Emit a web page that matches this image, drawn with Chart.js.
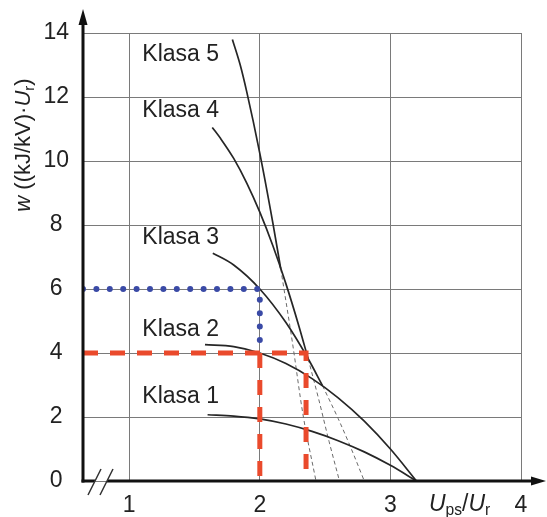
<!DOCTYPE html>
<html>
<head>
<meta charset="utf-8">
<script src="https://cdn.jsdelivr.net/npm/chart.js@4.4.1/dist/chart.umd.min.js"></script>
<style>
  body { margin: 0; background: #fff; }
  canvas { display: block; }
</style>
</head>
<body>
<canvas id="myChart" width="547" height="517"></canvas>
<script>
// tick values
var xTicks = [1, 2, 3, 4];
var yTicks = [0, 2, 4, 6, 8, 10, 12, 14];

// Klasa curves, solid parts (Ups/Ur, w)
var u1 = [1.6, 1.8, 2.0, 2.2, 2.4, 2.6, 2.8, 3.0, 3.2];
var w1 = [2.07, 2.03, 1.94, 1.78, 1.55, 1.26, 0.91, 0.49, 0];

var u2 = [1.58, 1.8, 2.0, 2.2, 2.4, 2.6, 2.8, 3.0, 3.2];
var w2 = [4.26, 4.2, 4.0, 3.67, 3.2, 2.6, 1.87, 1.0, 0];

var u3 = [1.64, 1.8, 2.0, 2.2, 2.37, 2.48];
var w3 = [7.12, 6.75, 6.0, 4.95, 3.82, 2.98];

var u4 = [1.636, 1.7, 1.8, 1.9, 2.0, 2.1, 2.2, 2.3, 2.37];
var w4 = [11.05, 10.7, 10.08, 9.31, 8.4, 7.35, 6.16, 4.83, 3.82];

var u5 = [1.79, 1.85, 1.9, 2.0, 2.1, 2.16];
var w5 = [13.8, 13.0, 12.16, 10.24, 8.06, 6.64];

// dashed continuations
var u3d = [2.48, 2.6, 2.7, 2.8];
var w3d = [2.98, 1.95, 1.01, 0];
var u4d = [2.37, 2.45, 2.53, 2.61];
var w4d = [3.82, 2.57, 1.24, 0];
var u5d = [2.16, 2.25, 2.33, 2.43];
var w5d = [6.64, 4.32, 2.09, 0];

// reading lines
var redU = [0.646, 2.354, 2.354];
var redW = [4, 4, 0];
var red2U = [2, 2];
var red2W = [4, 0];
var blueU = [0.646, 2, 2];
var blueW = [6, 6, 4.35];

// Klasa labels
var klasaNames = ['Klasa 1', 'Klasa 2', 'Klasa 3', 'Klasa 4', 'Klasa 5'];
var klasaLabelU = [1.1, 1.1, 1.1, 1.1, 1.1];
var klasaLabelW = [2.45, 4.52, 7.41, 11.36, 13.14];

var FONT = "'Liberation Sans', Arial, sans-serif";

function pts(us, ws) {
  return us.map(function (u, i) { return { x: u, y: ws[i] }; });
}

function solid(us, ws) {
  return {
    data: pts(us, ws), borderColor: '#262626', borderWidth: 1.7,
    pointRadius: 0, cubicInterpolationMode: 'monotone', fill: false
  };
}

function dashed(us, ws) {
  return {
    data: pts(us, ws), borderColor: '#6a6a6a', borderWidth: 1,
    borderDash: [4, 3], pointRadius: 0, cubicInterpolationMode: 'monotone', fill: false
  };
}

// draw pieces of text [text, style] in a row; style: 'n', 'i', 'sub'
function drawRich(ctx, pieces, x, y, size) {
  var cx = x;
  pieces.forEach(function (p) {
    var s = p[1];
    var fs = s === 'sub' ? size * 0.68 : size;
    ctx.font = (s === 'i' ? 'italic ' : '') + fs + 'px ' + FONT;
    ctx.fillText(p[0], cx, s === 'sub' ? y + size * 0.18 : y);
    cx += ctx.measureText(p[0]).width;
  });
}

function richWidth(ctx, pieces, size) {
  var w = 0;
  pieces.forEach(function (p) {
    var s = p[1];
    var fs = s === 'sub' ? size * 0.68 : size;
    ctx.font = (s === 'i' ? 'italic ' : '') + fs + 'px ' + FONT;
    w += ctx.measureText(p[0]).width;
  });
  return w;
}

var decor = {
  id: 'decor',
  afterDatasetsDraw: function (chart) {
    var ctx = chart.ctx;
    var xs = chart.scales.x, ys = chart.scales.y;
    var x0 = xs.left, y0 = ys.getPixelForValue(0);
    ctx.save();
    ctx.strokeStyle = '#111';
    ctx.fillStyle = '#111';
    ctx.lineWidth = 3;
    // y axis + arrow
    ctx.beginPath();
    ctx.moveTo(x0, y0 + 1.5);
    ctx.lineTo(x0, 22);
    ctx.stroke();
    ctx.beginPath();
    ctx.moveTo(x0, 9);
    ctx.lineTo(x0 - 4.5, 25);
    ctx.lineTo(x0 + 4.5, 25);
    ctx.closePath();
    ctx.fill();
    // x axis with break
    ctx.beginPath();
    ctx.moveTo(x0 - 1.5, y0);
    ctx.lineTo(x0 + 12, y0);
    ctx.moveTo(x0 + 24, y0);
    ctx.lineTo(534, y0);
    ctx.stroke();
    ctx.beginPath();
    ctx.moveTo(546, y0);
    ctx.lineTo(531, y0 - 4.5);
    ctx.lineTo(531, y0 + 4.5);
    ctx.closePath();
    ctx.fill();
    // break marks
    ctx.lineWidth = 1.5;
    ctx.strokeStyle = '#333';
    ctx.beginPath();
    ctx.moveTo(x0 + 5, y0 + 14);
    ctx.lineTo(x0 + 18, y0 - 12);
    ctx.moveTo(x0 + 17, y0 + 14);
    ctx.lineTo(x0 + 30, y0 - 12);
    ctx.stroke();

    // Klasa labels
    ctx.fillStyle = '#222';
    ctx.font = '23px ' + FONT;
    ctx.textBaseline = 'alphabetic';
    ctx.textAlign = 'left';
    klasaNames.forEach(function (n, i) {
      ctx.fillText(n, xs.getPixelForValue(klasaLabelU[i]), ys.getPixelForValue(klasaLabelW[i]));
    });

    // x axis title
    var xt = [['U', 'i'], ['ps', 'sub'], ['/', 'n'], ['U', 'i'], ['r', 'sub']];
    drawRich(ctx, xt, 429, 511, 23);

    // y axis title
    var yt = [['w', 'i'], [' ((kJ/kV)\u00b7', 'n'], ['U', 'i'], ['r', 'sub'], [')', 'n']];
    var tw = richWidth(ctx, yt, 22);
    ctx.translate(22, 145);
    ctx.rotate(-Math.PI / 2);
    drawRich(ctx, yt, -tw / 2, 8, 22);
    ctx.restore();
  }
};

var ctx = document.getElementById('myChart').getContext('2d');
var myChart = new Chart(ctx, {
  type: 'line',
  data: {
    datasets: [
      { data: pts(blueU, blueW), borderColor: '#3a4aa6', borderWidth: 6,
        borderDash: [0, 13.4], borderCapStyle: 'round', pointRadius: 0, tension: 0 },
      { data: pts(redU, redW), borderColor: '#ea4a2c', borderWidth: 5,
        borderDash: [15, 12], pointRadius: 0, tension: 0 },
      { data: pts(red2U, red2W), borderColor: '#ea4a2c', borderWidth: 5,
        borderDash: [15, 12], pointRadius: 0, tension: 0 },
      solid(u1, w1),
      solid(u2, w2),
      solid(u3, w3),
      solid(u4, w4),
      solid(u5, w5),
      dashed(u3d, w3d),
      dashed(u4d, w4d),
      dashed(u5d, w5d)
    ]
  },
  options: {
    responsive: false,
    animation: false,
    layout: { padding: { top: 33, right: 26, left: 0, bottom: 0 } },
    plugins: { legend: { display: false }, tooltip: { enabled: false } },
    scales: {
      x: {
        type: 'linear', min: 0.646, max: 4,
        afterBuildTicks: function (s) { s.ticks = xTicks.map(function (v) { return { value: v }; }); },
        afterFit: function (s) { s.height = 36; },
        grid: { color: '#7a7a7a', lineWidth: 1, drawTicks: false },
        border: { display: false },
        ticks: { font: { size: 23, family: FONT }, color: '#222', padding: 11, maxRotation: 0 }
      },
      y: {
        type: 'linear', min: 0, max: 14,
        afterBuildTicks: function (s) { s.ticks = yTicks.map(function (v) { return { value: v }; }); },
        afterFit: function (s) { s.width = 83; },
        grid: { color: '#7a7a7a', lineWidth: 1, drawTicks: false },
        border: { display: false },
        ticks: { font: { size: 23, family: FONT }, color: '#222', padding: 14, crossAlign: 'center' }
      }
    }
  },
  plugins: [decor]
});
</script>
</body>
</html>
